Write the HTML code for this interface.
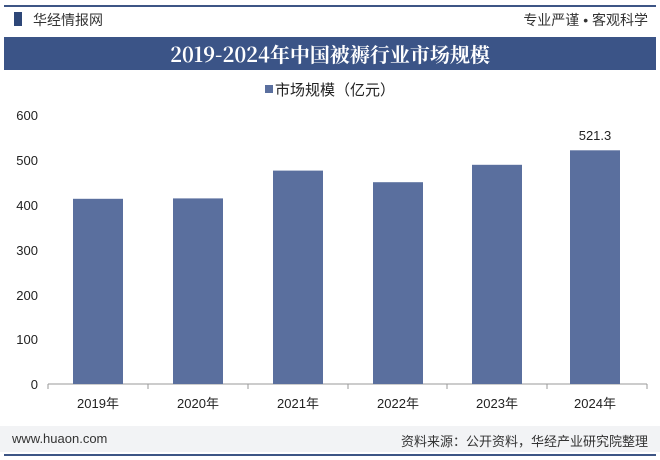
<!DOCTYPE html>
<html><head><meta charset="utf-8"><style>
body{margin:0;width:660px;height:460px;background:#fff;font-family:"Liberation Sans","Noto Sans CJK SC",sans-serif;overflow:hidden;position:relative}
.a{position:absolute}
</style></head><body>
<div class="a" style="left:4px;top:5px;width:652px;height:2px;background:#3d5585"></div>
<div class="a" style="left:14px;top:12px;width:8px;height:14px;background:#2e4778"></div>
<div class="a" style="left:33px;top:10px;font-size:14px;color:#333">华经情报网</div>
<div class="a" style="right:12px;top:10px;font-size:14px;color:#333">专业严谨 • 客观科学</div>
<div class="a" style="left:4px;top:37px;width:652px;height:33px;background:#3b5487;color:#fff;font-family:'Noto Serif CJK SC','Liberation Serif',serif;font-weight:bold;font-size:20px;text-align:center;line-height:33px">2019-2024年中国被褥行业市场规模</div>
<div class="a" style="left:0;width:660px;top:79px;text-align:center;font-size:15px;color:#222"><span style="display:inline-block;width:8px;height:8px;background:#5a6f9e;margin-right:2px;vertical-align:2px"></span>市场规模（亿元）</div>
<svg class="a" style="left:0;top:0" width="660" height="460">
<g font-size="13" fill="#222" text-anchor="end" font-family="Liberation Sans">
<text x="38" y="120">600</text><text x="38" y="165">500</text><text x="38" y="210">400</text><text x="38" y="255">300</text><text x="38" y="300">200</text><text x="38" y="344">100</text><text x="38" y="389">0</text>
</g>
<line x1="48" y1="384" x2="647" y2="384" stroke="#999"/>
<g stroke="#999"><line x1="48" y1="384" x2="48" y2="389"/><line x1="148" y1="384" x2="148" y2="389"/><line x1="248" y1="384" x2="248" y2="389"/><line x1="348" y1="384" x2="348" y2="389"/><line x1="447" y1="384" x2="447" y2="389"/><line x1="547" y1="384" x2="547" y2="389"/><line x1="647" y1="384" x2="647" y2="389"/></g>
<g fill="#5a6f9e">
<rect x="73" y="198.8" width="50" height="185.2"/>
<rect x="173" y="198.4" width="50" height="185.6"/>
<rect x="273" y="170.6" width="50" height="213.4"/>
<rect x="373" y="182.2" width="50" height="201.8"/>
<rect x="472" y="164.8" width="50" height="219.2"/>
<rect x="570" y="150.3" width="50" height="233.7"/>
</g>
<text x="595" y="140" font-size="13" fill="#222" text-anchor="middle" font-family="Liberation Sans">521.3</text>
<g font-size="13" fill="#222" text-anchor="middle" font-family="Liberation Sans,Noto Sans CJK SC">
<text x="98" y="408">2019年</text><text x="198" y="408">2020年</text><text x="298" y="408">2021年</text><text x="398" y="408">2022年</text><text x="497" y="408">2023年</text><text x="595" y="408">2024年</text>
</g>
</svg>
<div class="a" style="left:0;top:426px;width:660px;height:26px;background:#f2f3f5"></div>
<div class="a" style="left:12px;top:431px;font-size:13px;color:#333">www.huaon.com</div>
<div class="a" style="right:12px;top:431px;font-size:13px;color:#333">资料来源：公开资料，华经产业研究院整理</div>
<div class="a" style="left:4px;top:454px;width:652px;height:2px;background:#3d5585"></div>
</body></html>
